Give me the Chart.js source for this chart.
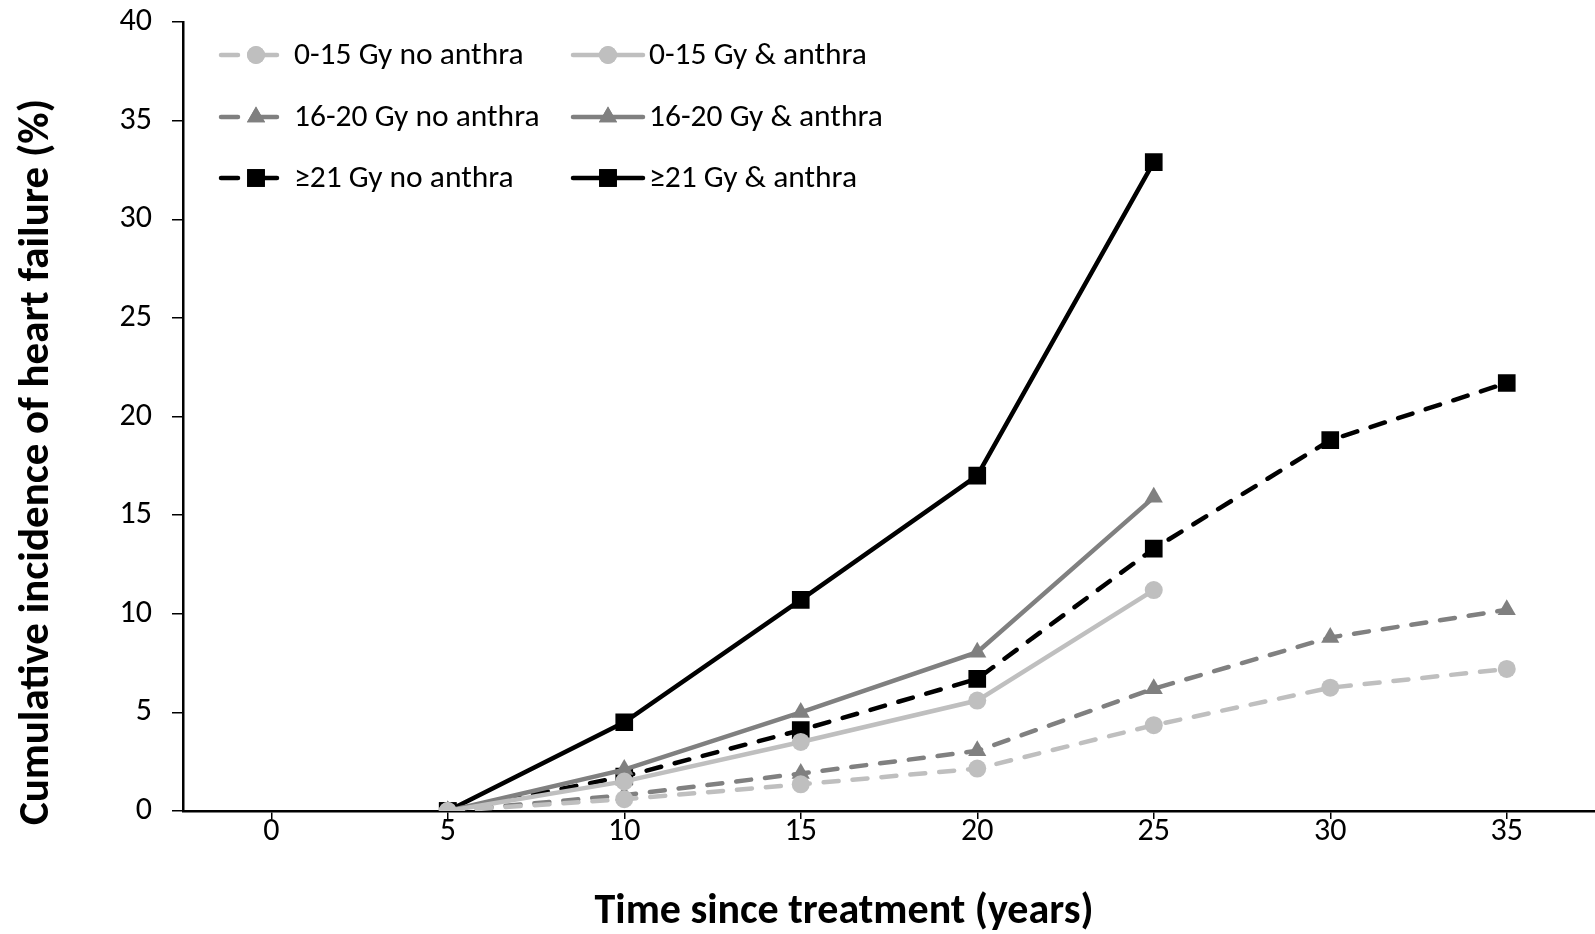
<!DOCTYPE html>
<html>
<head>
<meta charset="utf-8">
<script src="https://cdn.jsdelivr.net/npm/chart.js@4.4.1/dist/chart.umd.min.js"></script>
<style>
  html, body { margin: 0; padding: 0; background: #fff; }
  canvas { display: block; }
</style>
</head>
<body>
<canvas id="chart" width="1595" height="934"></canvas>
<script>
const years = ["0", "5", "10", "15", "20", "25", "30", "35"]
const yTicks = [0, 5, 10, 15, 20, 25, 30, 35, 40]

const low_no = [null, 0, 0.6, 1.35, 2.15, 4.35, 6.25, 7.2]
const low_an = [null, 0, 1.5, 3.5, 5.6, 11.2, null, null]
const mid_no = [null, 0, 0.8, 1.9, 3.05, 6.2, 8.8, 10.2]
const mid_an = [null, 0, 2.1, 5.0, 8.05, 15.9, null, null]
const high_no = [null, 0, 1.75, 4.1, 6.7, 13.3, 18.8, 21.7]
const high_an = [null, 0, 4.5, 10.7, 17.0, 32.9, null, null]

const labels = ["0-15 Gy no anthra", "0-15 Gy & anthra", "16-20 Gy no anthra", "16-20 Gy & anthra", "\u226521 Gy no anthra", "\u226521 Gy & anthra"]
const xTitle = "Time since treatment (years)"
const yTitle = "Cumulative incidence of heart failure (%)"

const FONT = 'Carlito, "Liberation Sans Narrow", "DejaVu Sans Condensed", sans-serif'
const light = "#bfbfbf", mid = "#808080", dark = "#000000"
const dash = [15, 14]

function ds(label, data, color, dashed, style, r) {
    return {
        label: label,
        data: data,
        borderColor: color,
        backgroundColor: color,
        borderWidth: 4.5,
        borderDash: dashed ? dash : [],
        borderCapStyle: dashed ? "round" : "butt",
        pointStyle: style,
        pointRadius: r,
        pointBorderWidth: 0,
        pointBackgroundColor: color,
        pointHoverRadius: r,
        tension: 0,
        spanGaps: false
    }
}

// legend in two columns + axis titles, drawn by hand
const extras = {
    id: "extras",
    afterDraw(chart) {
        const ctx = chart.ctx
        const rows = [55, 117, 178]
        const cols = [{ x0: 221, x1: 277, mx: 256, tx: 294 }, { x0: 573, x1: 643, mx: 608, tx: 649 }]
        chart.data.datasets.forEach((d, i) => {
            const c = cols[i % 2]
            const y = rows[Math.floor(i / 2)]
            ctx.save()
            ctx.strokeStyle = d.borderColor
            ctx.lineWidth = d.borderWidth
            ctx.lineCap = "round"
            ctx.beginPath()
            if (d.borderDash.length) {
                ctx.moveTo(c.x0, y); ctx.lineTo(c.x0 + 17, y)
                ctx.moveTo(c.mx, y); ctx.lineTo(c.x1, y)
            } else {
                ctx.moveTo(c.x0, y); ctx.lineTo(c.x1, y)
            }
            ctx.stroke()
            ctx.fillStyle = d.backgroundColor
            Chart.helpers.drawPoint(ctx, { pointStyle: d.pointStyle, radius: d.pointRadius, borderWidth: 0 }, c.mx, y)
            ctx.fill()
            ctx.fillStyle = "#000"
            ctx.font = "31.5px " + FONT
            ctx.textBaseline = "middle"
            ctx.fillText(d.label, c.tx, y + 1)
            ctx.restore()
        })
        ctx.save()
        ctx.fillStyle = "#000"
        ctx.font = "bold 42px " + FONT
        ctx.textAlign = "center"
        ctx.textBaseline = "middle"
        ctx.fillText(xTitle, 844, 912)
        ctx.translate(37, 462)
        ctx.rotate(-Math.PI / 2)
        ctx.font = "bold 43px " + FONT
        ctx.fillText(yTitle, 0, 0)
        ctx.restore()
    }
}

new Chart(document.getElementById("chart"), {
    type: "line",
    data: {
        labels: years,
        datasets: [
            ds(labels[0], low_no, light, true, "circle", 9),
            ds(labels[1], low_an, light, false, "circle", 9),
            ds(labels[2], mid_no, mid, true, "triangle", 10.5),
            ds(labels[3], mid_an, mid, false, "triangle", 10.5),
            ds(labels[4], high_no, dark, true, "rect", 12.5),
            ds(labels[5], high_an, dark, false, "rect", 12.5)
        ]
    },
    plugins: [extras],
    options: {
        responsive: false,
        animation: false,
        layout: { autoPadding: false, padding: { top: 22, right: 0, left: 0, bottom: 0 } },
        plugins: {
            legend: { display: false },
            tooltip: { enabled: false }
        },
        scales: {
            x: {
                offset: true,
                grid: { display: true, offset: false, drawOnChartArea: false, tickLength: 8, color: "#000", lineWidth: 1.5 },
                border: { color: "#000", width: 2.5 },
                ticks: { color: "#000", font: { family: FONT, size: 32 }, padding: -6, maxRotation: 0 },
                afterFit(scale) { scale.height = 123; scale.paddingLeft = 0; scale.paddingRight = 0 }
            },
            y: {
                min: 0,
                max: 40,
                afterBuildTicks(scale) { scale.ticks = yTicks.map(v => ({ value: v })) },
                grid: { display: true, drawOnChartArea: false, tickLength: 11, color: "#000", lineWidth: 1.5 },
                border: { color: "#000", width: 2.5 },
                ticks: { color: "#000", font: { family: FONT, size: 32 }, padding: 20 },
                afterFit(scale) { scale.width = 183; scale.paddingTop = 0; scale.paddingBottom = 0 }
            }
        }
    }
})
</script>
</body>
</html>
